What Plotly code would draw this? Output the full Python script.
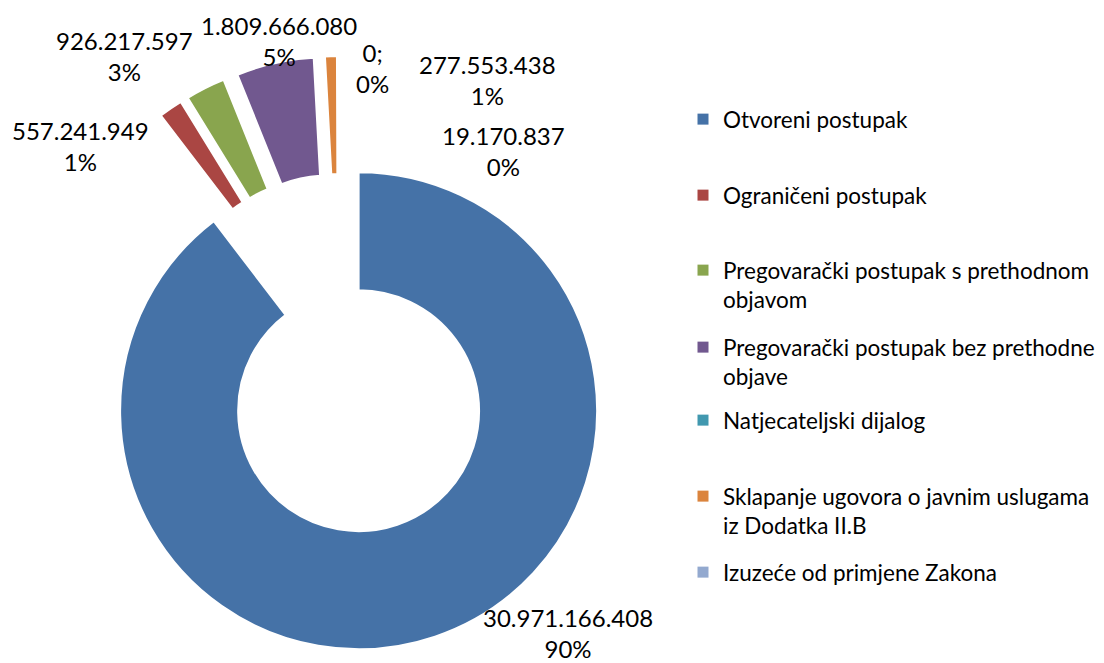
import plotly.graph_objects as go

# ---- data ----
labels = [
    "Otvoreni postupak",
    "Ograničeni postupak",
    "Pregovarački postupak s prethodnom<br>objavom",
    "Pregovarački postupak bez prethodne<br>objave",
    "Natjecateljski dijalog",
    "Sklapanje ugovora o javnim uslugama<br>iz Dodatka II.B",
    "Izuzeće od primjene Zakona",
]
values = [30971166408, 557241949, 926217597, 1809666080, 0, 277553438, 19170837]
pct_labels = ["90%", "1%", "3%", "5%", "0%", "1%", "0%"]
colors = ["#4572A7", "#AA4643", "#89A54E", "#71588F", "#4198AF", "#DB843D", "#93A9CF"]

# ---- layout geometry (pixels) ----
W, H = 1104, 663
FONT = "Lato, 'Open Sans', sans-serif"
center_px = (339.5, 354.2)      # centre of the un-exploded doughnut
radius_px = 238.5
pull = 0.25
hole = 0.505
half = radius_px * (1 + pull)
dom_x = [(center_px[0] - half) / W, (center_px[0] + half) / W]
dom_y = [1 - (center_px[1] + half) / H, 1 - (center_px[1] - half) / H]

fig = go.Figure()
fig.add_trace(go.Pie(
    labels=labels, values=values, sort=False, direction="clockwise", rotation=0,
    hole=hole, pull=[pull] * len(values),
    marker=dict(colors=colors, line=dict(color="white", width=2)),
    textinfo="none", domain=dict(x=dom_x, y=dom_y), showlegend=False,
    legendgroup="slices",
))

# legend entries (one legend per entry so entries can be spaced like the original)
legend_line1_y = [119, 195, 270, 347, 420, 496, 572]
legend_font = 22.5
for i, (lab, col) in enumerate(zip(labels, colors)):
    key = "legend" if i == 0 else f"legend{i + 1}"
    fig.add_trace(go.Scatter(
        x=[None], y=[None], mode="markers", name=lab, hoverinfo="skip",
        marker=dict(symbol="square", size=11, color=col),
        showlegend=True, legend=key,
    ))
    fig.update_layout(**{key: dict(
        x=683 / W, xanchor="left",
        y=1 - (legend_line1_y[i] - 21) / H, yanchor="top",
        font=dict(family=FONT, size=legend_font, color="#000000"),
        bgcolor="rgba(0,0,0,0)", borderwidth=0, valign="top",
    )})

# data labels
label_pos = [(568, 633), (80, 146), (124, 56), (279, 41), (372, 68), (487, 80), (503, 151)]
for i, v in enumerate(values):
    num = f"{v:,}".replace(",", ".")
    sep = ";" if v == 0 else ""
    fig.add_annotation(
        x=label_pos[i][0] / W, y=1 - label_pos[i][1] / H, xref="paper", yref="paper",
        text=f"{num}{sep}<br>{pct_labels[i]}", showarrow=False,
        xanchor="center", yanchor="middle", align="center",
        font=dict(family=FONT, size=24, color="#000000"),
    )

fig.update_layout(
    width=W, height=H, margin=dict(l=0, r=0, t=0, b=0),
    paper_bgcolor="white", plot_bgcolor="white",
    xaxis=dict(visible=False), yaxis=dict(visible=False),
)
fig.write_html("out.html", config={"displayModeBar": False},
               post_script="document.body.style.margin='0';")
